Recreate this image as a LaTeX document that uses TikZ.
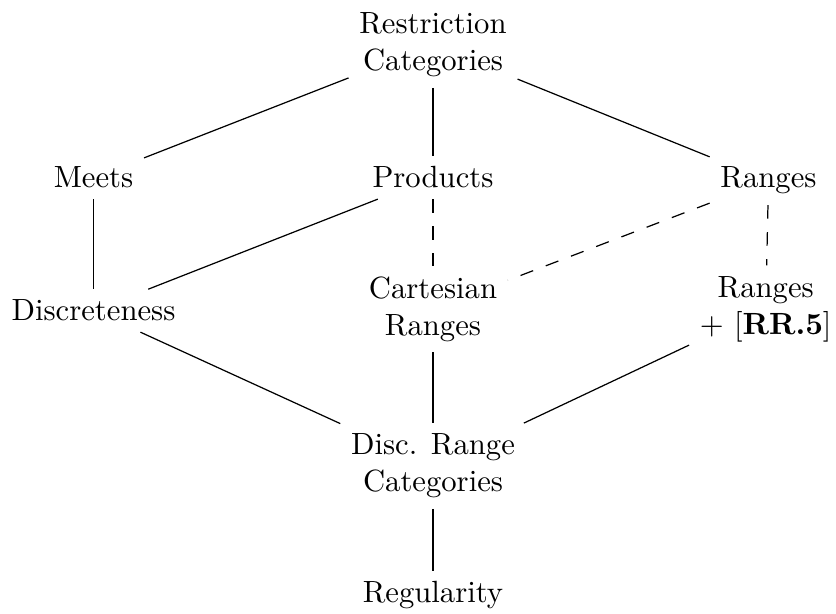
\documentclass[tikz,border=0pt]{standalone}
\usepackage{amssymb,amsmath}
\usepackage{tikz}
\usetikzlibrary{positioning}

\begin{document}
\begin{tikzpicture}[cat/.style={align=center}, ext/.style={dash pattern=on 4.4pt off 4.4pt}]
\useasboundingbox (-1.071,-0.126) rectangle (8.505,6.907);

\node[cat] (restr) at (3.889,6.392) {Restriction\\Categories};

\node[cat,anchor=base] (meets) at (0,4.754) {Meets};
\node[cat,anchor=base] (prod) at (3.889,4.754) {Products};
\node[cat,anchor=base] (ranges) at (7.732,4.754) {Ranges};

\node[cat,anchor=base] (discr) at (0,3.230) {Discreteness};
\node[cat] (cartr) at (3.889,3.368) {Cartesian\\Ranges};
\node[cat] (rrfive) at (7.70,3.368) {Ranges\\+ [\textbf{RR.5}]};

\node[cat] (drc) at (3.889,1.569) {Disc. Range\\Categories};
\node[cat,anchor=base] (reg) at (3.889,0) {Regularity};

\draw (restr) -- (meets);
\draw (restr) -- (prod);
\draw (restr) -- (ranges);
\draw (meets) -- (discr);
\draw (prod) -- (discr);
\draw[ext] (prod) -- (cartr);
\draw[ext] (ranges) -- (cartr);
\draw[ext] (ranges) -- (rrfive);
\draw (discr) -- (drc);
\draw (cartr) -- (drc);
\draw (rrfive) -- (drc);
\draw (drc) -- (reg);
\end{tikzpicture}
\end{document}
